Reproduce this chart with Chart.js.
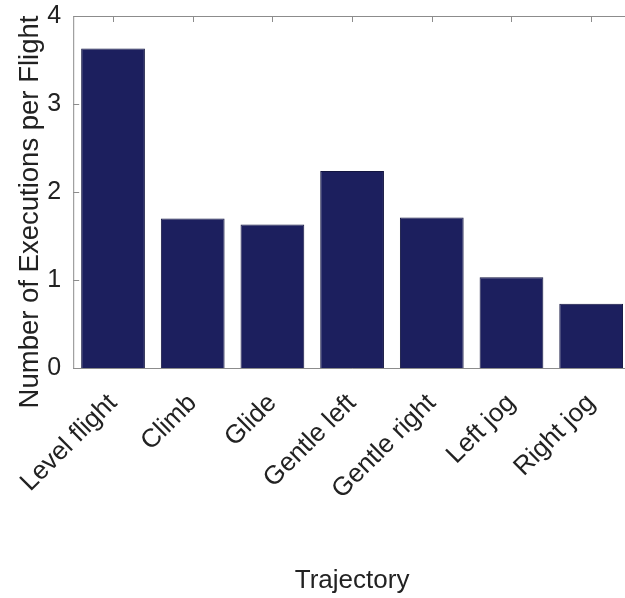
<!DOCTYPE html>
<html>
<head>
<meta charset="utf-8">
<script src="https://cdn.jsdelivr.net/npm/chart.js@4"></script>
<style>
  html, body { margin: 0; padding: 0; background: #fff; overflow: hidden; }
  #wrap { width: 640px; height: 598px; }
</style>
</head>
<body>
<div id="wrap"><canvas id="chart"></canvas></div>
<script>
// trajectories and how often each one was flown
const trajectories = ['Level flight', 'Climb', 'Glide', 'Gentle left', 'Gentle right', 'Left jog', 'Right jog'];
const executions = [3.63, 1.70, 1.63, 2.24, 1.71, 1.03, 0.73];
const yTicks = [0, 1, 2, 3, 4];
const yTitle = 'Number of Executions per Flight';

const FONT = 'Liberation Sans, Arial, Helvetica, sans-serif';

// matlab style box with inward ticks
const boxPlugin = {
  id: 'box',
  afterDatasetsDraw(chart) {
    const { ctx, chartArea: a, scales } = chart;
    ctx.save();
    ctx.strokeStyle = '#8c8c8c';
    ctx.lineWidth = 1;
    ctx.beginPath();
    ctx.moveTo(a.left + 0.5, a.bottom + 0.5);
    ctx.lineTo(a.left + 0.5, a.top + 0.5);
    ctx.lineTo(a.right, a.top + 0.5);
    ctx.moveTo(a.left, a.bottom + 0.5);
    ctx.lineTo(a.right, a.bottom + 0.5);
    yTicks.forEach(v => {
      const y = Math.round(scales.y.getPixelForValue(v)) + 0.5;
      ctx.moveTo(a.left, y);
      ctx.lineTo(a.left + 6, y);
    });
    trajectories.forEach((t, i) => {
      const x = Math.round(scales.x.getPixelForValue(i)) + 0.5;
      ctx.moveTo(x, a.top);
      ctx.lineTo(x, a.top + 6);
    });
    ctx.stroke();

    // y label sits a bit lower than the axis middle in the original
    ctx.translate(30, (a.top + a.bottom) / 2 + 20);
    ctx.rotate(-Math.PI / 2);
    ctx.fillStyle = '#222';
    ctx.font = '27.5px ' + FONT;
    ctx.textAlign = 'center';
    ctx.textBaseline = 'middle';
    ctx.fillText(yTitle, 0, 0);
    ctx.restore();
  }
};

const ctx = document.getElementById('chart').getContext('2d');

const myChart = new Chart(ctx, {
  type: 'bar',
  data: {
    labels: trajectories,
    datasets: [{
      label: 'Executions',
      data: executions,
      backgroundColor: '#1c1f5e',
      borderColor: '#131540',
      borderWidth: 1,
      barPercentage: 0.8,
      categoryPercentage: 1
    }]
  },
  options: {
    responsive: true,
    maintainAspectRatio: false,
    animation: false,
    layout: { padding: { top: 16, right: 9, left: 0, bottom: 0 } },
    plugins: {
      legend: { display: false },
      tooltip: { enabled: false }
    },
    scales: {
      x: {
        grid: { display: false, drawTicks: false },
        border: { display: false },
        ticks: {
          color: '#222',
          font: { family: FONT, size: 26 },
          minRotation: 45,
          maxRotation: 45,
          padding: 20
        },
        title: {
          display: true,
          text: 'Trajectory',
          color: '#222',
          font: { family: FONT, size: 26 },
          padding: { top: 0, bottom: 2 }
        },
        afterFit(scale) { scale.height = 230; }
      },
      y: {
        min: 0,
        max: 4,
        grid: { display: false, drawTicks: false },
        border: { display: false },
        afterBuildTicks(scale) { scale.ticks = yTicks.map(v => ({ value: v })); },
        ticks: {
          color: '#222',
          font: { family: FONT, size: 25 },
          padding: 12
        },
        afterFit(scale) {
          scale.width = 72;
          scale.paddingTop = 0;
          scale.paddingBottom = 0;
        }
      }
    }
  },
  plugins: [boxPlugin]
});
</script>
</body>
</html>
